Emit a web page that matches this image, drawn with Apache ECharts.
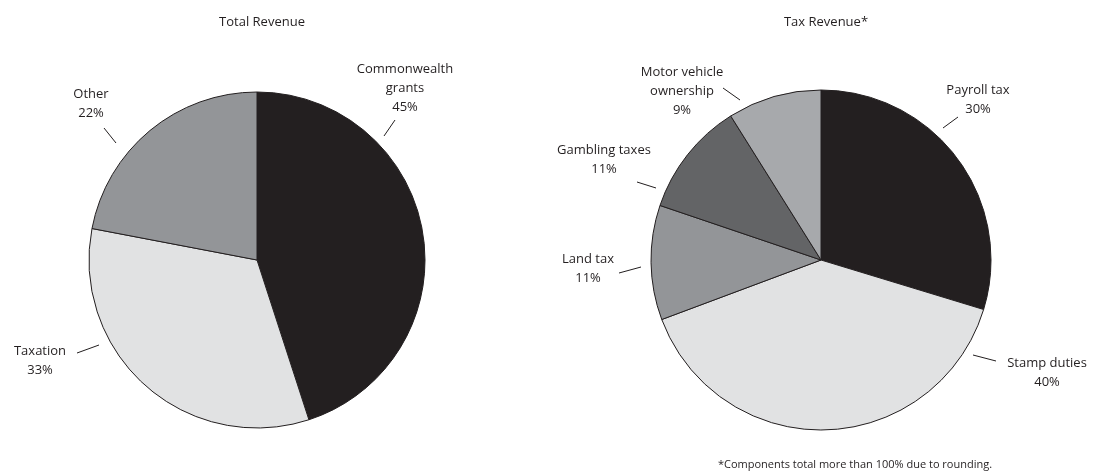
<!DOCTYPE html>
<html>
<head>
<meta charset="utf-8">
<script src="https://cdn.jsdelivr.net/npm/echarts@6/dist/echarts.min.js"></script>
<style>html,body{margin:0;padding:0;background:#fff}#c{width:1099px;height:475px}</style>
</head>
<body>
<div id="c"></div>
<script>
// Data
var totalCategories = ['Commonwealth\ngrants', 'Taxation', 'Other'];
var totalValues = [45, 33, 22];
var taxCategories = ['Payroll tax', 'Stamp duties', 'Land tax', 'Gambling taxes', 'Motor vehicle\nownership'];
var taxValues = [30, 40, 11, 11, 9];
var titles = ['Total Revenue', 'Tax Revenue*'];
var footnote = '*Components total more than 100% due to rounding.';

// Styling / layout (not data)
var FONT = '"Open Sans", "Noto Sans", sans-serif';
var INK = '#231f20';
var totalColors = ['#231f20', '#e1e2e3', '#939598'];
var taxColors = ['#231f20', '#e1e2e3', '#939598', '#636466', '#a7a9ac'];
var totalLabelLayout = [
  {x: 405, y: 88, line: [[384, 136], [395, 120]]},
  {x: 40, y: 361, line: [[99, 345], [77, 353]]},
  {x: 91, y: 104, line: [[116, 143], [104, 128]]}
];
var taxLabelLayout = [
  {x: 978, y: 100, line: [[943, 128], [958, 117]]},
  {x: 1047, y: 373, line: [[973, 355], [996, 361]]},
  {x: 588, y: 269, line: [[641, 267], [619, 273]]},
  {x: 604, y: 160, line: [[656, 188], [637, 182]]},
  {x: 682, y: 91, line: [[740, 100], [723, 88]]}
];

function toData(names, values, colors) {
  return names.map(function (n, i) {
    return {name: n, value: values[i], itemStyle: {color: colors[i]}};
  });
}
function layoutFn(table) {
  return function (p) {
    var t = table[p.dataIndex];
    var a = t.line[0], b = t.line[1];
    return {
      x: t.x, y: t.y, align: 'center', verticalAlign: 'middle',
      labelLinePoints: [a, b, b]
    };
  };
}
function pieSeries(center, radius, data, table) {
  return {
    type: 'pie',
    center: center,
    radius: radius,
    startAngle: 90,
    clockwise: true,
    animation: false,
    silent: true,
    avoidLabelOverlap: false,
    data: data,
    itemStyle: {borderColor: INK, borderWidth: 1},
    label: {
      show: true, position: 'outside',
      formatter: '{b}\n{c}%',
      fontFamily: FONT, fontSize: 13, lineHeight: 19,
      color: INK, align: 'center'
    },
    labelLine: {show: true, length: 5, length2: 5, lineStyle: {color: INK, width: 1}},
    labelLayout: layoutFn(table)
  };
}

var chart = echarts.init(document.getElementById('c'), null, {renderer: 'canvas'});
chart.setOption({
  backgroundColor: '#fff',
  title: [
    {text: titles[0], left: 257, top: 11, textAlign: 'center',
     textStyle: {fontFamily: FONT, fontSize: 13, fontWeight: 'normal', color: INK}},
    {text: titles[1], left: 821, top: 11, textAlign: 'center',
     textStyle: {fontFamily: FONT, fontSize: 13, fontWeight: 'normal', color: INK}},
    {text: footnote, left: 850, top: 454, textAlign: 'center',
     textStyle: {fontFamily: FONT, fontSize: 11, fontWeight: 'normal', color: INK}}
  ],
  series: [
    pieSeries([257, 260], 168, toData(totalCategories, totalValues, totalColors), totalLabelLayout),
    pieSeries([821, 260], 170, toData(taxCategories, taxValues, taxColors), taxLabelLayout)
  ]
});
</script>
</body>
</html>
